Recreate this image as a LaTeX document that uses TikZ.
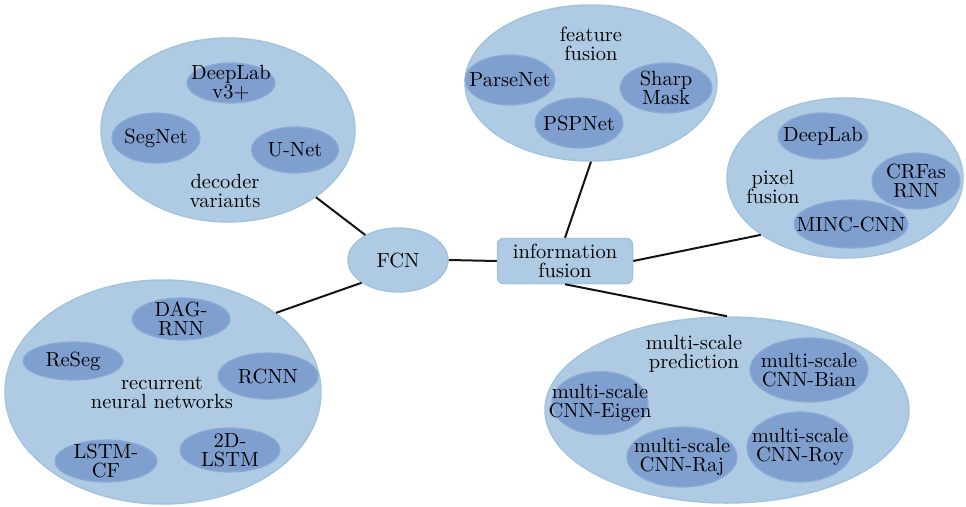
\documentclass[tikz,border=0pt]{standalone}
\usepackage{fontspec}
\setmainfont{lmroman10-regular.otf}
\usetikzlibrary{shapes.geometric}
\definecolor{outerblue}{HTML}{AECBE3}
\definecolor{rimblue}{HTML}{A3C3DF}
\definecolor{innerblue}{HTML}{7F9FCF}
\definecolor{innerrim}{HTML}{8BA9D5}
\begin{document}
\begin{tikzpicture}[x=1pt,y=-1pt,
  group/.style={ellipse, fill=outerblue, draw=rimblue, line width=1.5pt, inner sep=0pt},
  item/.style={ellipse, fill=innerblue, draw=innerrim, line width=1.2pt, inner sep=0pt},
  hubbox/.style={rectangle, rounded corners=6pt, fill=outerblue, draw=rimblue, line width=1.5pt, inner sep=0pt},
  lbl/.style={align=center, font=\fontsize{20.5}{19}\selectfont, inner sep=0pt, text=black},
  link/.style={line width=2pt, draw=black!92}]
\useasboundingbox (0,0) rectangle (966,506);

% ---- decoder variants ----
\node[group, minimum width=254, minimum height=184] (dec) at (228,130) {};
\node[item, minimum width=88, minimum height=40] (dl3) at (231,83) {};
\node[lbl] (dl3-t) at (dl3) {DeepLab\\v3+};
\node[item, minimum width=88, minimum height=50] (segnet) at (156,138) {};
\node[lbl] (segnet-t) at (segnet) {SegNet};
\node[item, minimum width=87, minimum height=46] (unet) at (295,150) {};
\node[lbl] (unet-t) at (unet) {U-Net};
\node[lbl] (dec-t) at (225,191) {decoder\\variants};

% ---- recurrent neural networks ----
\node[group, minimum width=316, minimum height=224] (rnn) at (163,392) {};
\node[item, minimum width=98, minimum height=42] (dag) at (181,319) {};
\node[lbl] (dag-t) at (dag) {DAG-\\RNN};
\node[item, minimum width=100, minimum height=38] (reseg) at (73,361) {};
\node[lbl] (reseg-t) at (reseg) {ReSeg};
\node[item, minimum width=100, minimum height=46] (rcnn) at (268,376) {};
\node[lbl] (rcnn-t) at (rcnn) {RCNN};
\node[item, minimum width=102, minimum height=42] (lstmcf) at (106,461) {};
\node[lbl] (lstmcf-t) at (lstmcf) {LSTM-\\CF};
\node[item, minimum width=100, minimum height=44] (lstm2d) at (230,450) {};
\node[lbl] (lstm2d-t) at (lstm2d) {2D-\\LSTM};
\node[lbl] (rnn-t) at (162,393) {recurrent\\neural networks};

% ---- hubs ----
\node[group, minimum width=100, minimum height=64] (fcn) at (398,260) {};
\node[lbl] (fcn-t) at (fcn) {FCN};
\node[hubbox, minimum width=135, minimum height=45] (info) at (565,261) {};
\node[lbl] (info-t) at (info) {information\\fusion};

% ---- feature fusion ----
\node[group, minimum width=252, minimum height=156] (feat) at (591,83) {};
\node[item, minimum width=90, minimum height=50] (parse) at (510,80) {};
\node[lbl] (parse-t) at (parse) {ParseNet};
\node[item, minimum width=88, minimum height=50] (psp) at (579,123) {};
\node[lbl] (psp-t) at (psp) {PSPNet};
\node[item, minimum width=92, minimum height=50] (sharp) at (666,88) {};
\node[lbl] (sharp-t) at (sharp) {Sharp\\Mask};
\node[lbl] (feat-t) at (591,44) {feature\\fusion};

% ---- pixel fusion ----
\node[group, minimum width=236, minimum height=160] (pix) at (845,178) {};
\node[item, minimum width=90, minimum height=46] (deeplab) at (823,136) {};
\node[lbl] (deeplab-t) at (deeplab) {DeepLab};
\node[item, minimum width=114, minimum height=48] (minc) at (851,224) {};
\node[lbl] (minc-t) at (minc) {MINC-CNN};
\node[item, minimum width=88, minimum height=56] (crf) at (916,181) {};
\node[lbl] (crf-t) at (crf) {CRFas\\RNN};
\node[lbl] (pix-t) at (773,187) {pixel\\fusion};

% ---- multi-scale prediction ----
\node[group, minimum width=364, minimum height=186] (ms) at (727,410) {};
\node[item, minimum width=118, minimum height=64] (bian) at (809,370) {};
\node[lbl] (bian-t) at (bian) {multi-scale\\CNN-Bian};
\node[item, minimum width=96, minimum height=63] (eigen) at (600,403) {};
\node[lbl] (eigen-t) at (eigen) {multi-scale\\CNN-Eigen};
\node[item, minimum width=110, minimum height=60] (raj) at (682,457) {};
\node[lbl] (raj-t) at (raj) {multi-scale\\CNN-Raj};
\node[item, minimum width=106, minimum height=70] (roy) at (800,447) {};
\node[lbl] (roy-t) at (roy) {multi-scale\\CNN-Roy};
\node[lbl] (ms-t) at (694,354) {multi-scale\\prediction};

% ---- connectors ----
\draw[link] (dec) -- (fcn);
\draw[link] (rnn.35) -- (fcn.212);
\draw[link] (fcn.east) -- (info.west);
\draw[link] (info.north) -- (feat.south);
\draw[link] (info.east) -- (pix.214);
\draw[link] (info.south) -- (ms.north);
\end{tikzpicture}
\end{document}
